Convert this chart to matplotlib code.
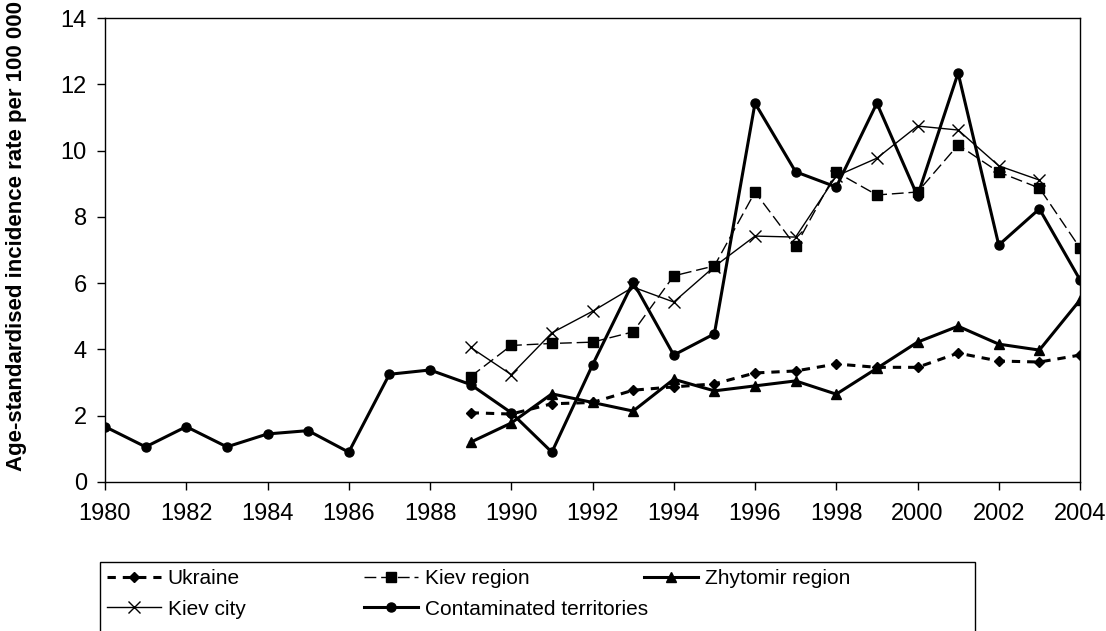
import numpy as np
import matplotlib
matplotlib.use("Agg")
import matplotlib.pyplot as plt
from matplotlib.patches import Rectangle

plt.rcParams['font.family'] = ['Liberation Sans', 'DejaVu Sans']
plt.rcParams['lines.scale_dashes'] = False

# data
years_all = list(range(1980, 2005))
years = list(range(1989, 2005))

contaminated = [1.67, 1.06, 1.67, 1.06, 1.45, 1.55, 0.90, 3.25, 3.38, 2.94,
                2.09, 0.90, 3.53, 6.03, 3.83, 4.47, 11.43, 9.36, 8.90, 11.43,
                8.63, 12.34, 7.15, 8.24, 6.10]
ukraine = [2.09, 2.05, 2.36, 2.40, 2.77, 2.87, 2.96, 3.29, 3.35, 3.56,
           3.46, 3.46, 3.89, 3.65, 3.62, 3.83]
kiev_region = [3.18, 4.12, 4.18, 4.22, 4.53, 6.22, 6.52, 8.75, 7.12, 9.35,
               8.66, 8.75, 10.17, 9.35, 8.87, 7.06]
zhytomir = [1.20, 1.78, 2.66, 2.40, 2.14, 3.10, 2.75, 2.90, 3.05, 2.65,
            3.43, 4.22, 4.70, 4.16, 3.98, 5.49]
kiev_city = [4.06, 3.24, 4.50, 5.15, 5.88, 5.43, 6.50, 7.42, 7.39, 9.23,
             9.77, 10.74, 10.62, 9.54, 9.11, np.nan]

fig = plt.figure(figsize=(11.06, 6.31), dpi=100)
ax = fig.add_axes([105/1106, 1-482/631, (1080-105)/1106, (482-18)/631])

l_ukr, = ax.plot(years, ukraine, color='black', lw=2.2, dashes=(6, 5),
                 marker='D', ms=5.5, label='Ukraine')
l_kr, = ax.plot(years, kiev_region, color='black', lw=1.0, dashes=(8.5, 3.5),
                marker='s', ms=6.5, label='Kiev region')
l_zh, = ax.plot(years, zhytomir, color='black', lw=2.2, marker='^', ms=7,
                label='Zhytomir region')
l_kc, = ax.plot(years, kiev_city, color='black', lw=1.0, marker='x', ms=9,
                mew=1.0, label='Kiev city')
l_ct, = ax.plot(years_all, contaminated, color='black', lw=2.2, marker='o',
                ms=6.5, label='Contaminated territories')

ax.set_xlim(1980, 2004)
ax.set_ylim(0, 14)
ax.set_xticks(range(1980, 2005, 2))
ax.set_yticks(range(0, 15, 2))
ax.tick_params(direction='out', length=6, width=1, labelsize=17, colors='black')
ax.tick_params(axis='x', pad=9)
ax.tick_params(axis='y', pad=7)
for s in ax.spines.values():
    s.set_linewidth(1)
    s.set_color('black')
ax.set_ylabel('Age-standardised incidence rate per 100 000', fontsize=16,
              fontweight='bold')
ax.yaxis.set_label_coords(-0.08, 0.53)

# legend: one frame, three columns
fig.add_artist(Rectangle((100/1106, 1-640/631), 875/1106, 78/631,
                         transform=fig.transFigure, fill=False,
                         edgecolor='black', lw=1))
cols = [([l_ukr, l_kc], 103), ([l_kr, l_ct], 360), ([l_zh], 640)]
for hs, xpx in cols:
    fig.legend(handles=hs, loc='upper left',
               bbox_to_anchor=(xpx/1106, 1-565/631), frameon=False,
               fontsize=15, handlelength=2.6, handletextpad=0.3,
               labelspacing=0.55, borderpad=0.2, borderaxespad=0)

fig.savefig('out.png', dpi=100)
